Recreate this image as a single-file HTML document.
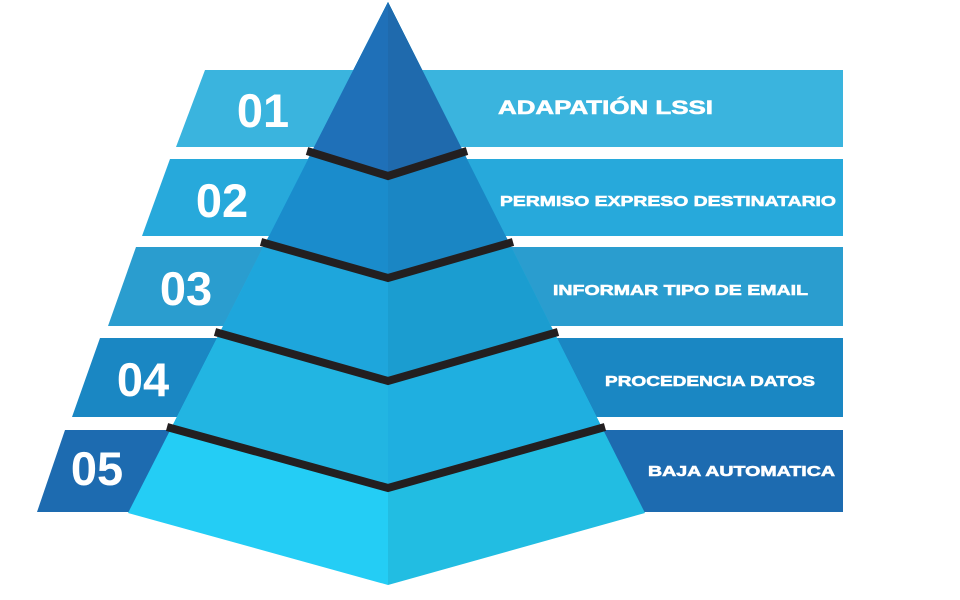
<!DOCTYPE html>
<html><head><meta charset="utf-8"><style>html,body{margin:0;padding:0;background:#fff}svg{display:block}</style></head><body>
<svg width="960" height="600" viewBox="0 0 960 600" xmlns="http://www.w3.org/2000/svg">
<polygon points="205,70 843,70 843,147 176,147" fill="#3ab4de"/>
<polygon points="170,159 843,159 843,236 142,236" fill="#27a9db"/>
<polygon points="136,247 843,247 843,326 108,326" fill="#2a9dcf"/>
<polygon points="100,338 843,338 843,417 72,417" fill="#1a87c3"/>
<polygon points="65,430 843,430 843,512 37,512" fill="#1d6bb0"/>
<polygon points="388,2 128,513 388,585" fill="#24cdf5"/>
<polygon points="388,2 171.7,427 388,488" fill="#22b5e2"/>
<polygon points="388,2 220,332 388,381" fill="#1ea6dc"/>
<polygon points="388,2 266,242 388,278" fill="#1a8ccc"/>
<polygon points="388,2 312,151 388,176" fill="#1f70b8"/>
<polygon points="388,2 645,513 388,585" fill="#22bde2"/>
<polygon points="388,2 601.7,427 388,488" fill="#1fafe0"/>
<polygon points="388,2 554,332 388,381" fill="#1b9dd0"/>
<polygon points="388,2 508.7,242 388,278" fill="#1a86c4"/>
<polygon points="388,2 463,151 388,176" fill="#1f6aad"/>
<g stroke="#231f20" stroke-width="8" fill="none">
<polyline points="307,151 388,176 467,151"/>
<polyline points="261,242 388,278 513,242"/>
<polyline points="215,332 388,381 558,332"/>
<polyline points="167,427 388,488 605,427"/>
</g>
<g fill="#fff" font-family="Liberation Sans, sans-serif" font-weight="bold">
<text x="263" y="127" font-size="47" text-anchor="middle">01</text>
<text x="222" y="217" font-size="47" text-anchor="middle">02</text>
<text x="186" y="305" font-size="47" text-anchor="middle">03</text>
<text x="143" y="396" font-size="47" text-anchor="middle">04</text>
<text x="97" y="485" font-size="47" text-anchor="middle">05</text>
<g stroke="#fff" stroke-width="0.6">
<text x="498" y="114" font-size="19" textLength="215" lengthAdjust="spacingAndGlyphs">ADAPATIÓN LSSI</text>
<text x="500" y="206" font-size="15" textLength="336" lengthAdjust="spacingAndGlyphs">PERMISO EXPRESO DESTINATARIO</text>
<text x="553" y="295" font-size="15" textLength="255" lengthAdjust="spacingAndGlyphs">INFORMAR TIPO DE EMAIL</text>
<text x="605" y="386" font-size="15" textLength="210" lengthAdjust="spacingAndGlyphs">PROCEDENCIA DATOS</text>
<text x="648" y="476" font-size="15" textLength="187" lengthAdjust="spacingAndGlyphs">BAJA AUTOMATICA</text>
</g>
</g>
</svg>
</body></html>
